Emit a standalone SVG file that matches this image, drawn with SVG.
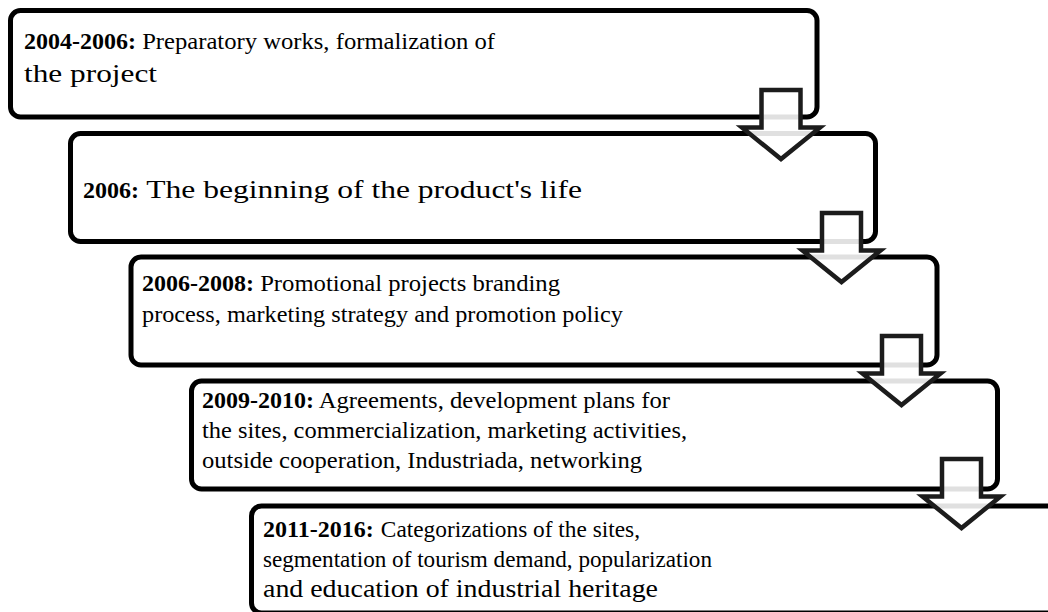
<svg xmlns="http://www.w3.org/2000/svg" width="1048" height="612" viewBox="0 0 1048 612">
<defs>
<style>
.box{fill:#fff;stroke:#000;stroke-width:5}
.arrow{fill:#fff;fill-opacity:0.88;stroke:#1c1c1c;stroke-width:4.5;stroke-linejoin:miter}
.t{font-family:'Liberation Serif','Times New Roman',Times,serif;font-size:24px;fill:#000}
.b{font-weight:bold}
</style>
<path id="arr" d="M -19.5,0 H 19.5 V 37.5 H 39 L 0 69 L -39 37.5 H -19.5 Z"/>
</defs>
<rect width="1048" height="612" fill="#fff"/>
<g id="node1">
<rect class="box" x="10.5" y="10.5" width="806.5" height="106.5" rx="10"/>
<text class="t" x="24" y="49"><tspan class="b">2004-2006:</tspan><tspan x="136" textLength="359" lengthAdjust="spacingAndGlyphs"> Preparatory works, formalization of</tspan></text>
<text class="t" x="24" y="82" font-size="26" style="font-size:26px" textLength="133" lengthAdjust="spacingAndGlyphs">the project</text>
</g>
<g id="node2">
<rect class="box" x="70.5" y="133.5" width="805" height="108" rx="10"/>
<text class="t" x="83" y="198"><tspan class="b">2006:</tspan><tspan x="139" style="font-size:25px" textLength="443" lengthAdjust="spacingAndGlyphs"> The beginning of the product's life</tspan></text>
</g>
<g id="node3">
<rect class="box" x="131" y="257" width="806" height="108" rx="10"/>
<text class="t" x="142" y="291"><tspan class="b">2006-2008:</tspan><tspan x="254" textLength="306" lengthAdjust="spacingAndGlyphs"> Promotional projects branding</tspan></text>
<text class="t" x="142" y="322" textLength="481" lengthAdjust="spacingAndGlyphs">process, marketing strategy and promotion policy</text>
</g>
<g id="node4">
<rect class="box" x="191.5" y="381" width="806" height="108" rx="10"/>
<text class="t" x="202" y="408"><tspan class="b">2009-2010:</tspan><tspan x="314" textLength="356" lengthAdjust="spacingAndGlyphs"> Agreements, development plans for</tspan></text>
<text class="t" x="202" y="438" textLength="485" lengthAdjust="spacingAndGlyphs">the sites, commercialization, marketing activities,</text>
<text class="t" x="202" y="468" textLength="440" lengthAdjust="spacingAndGlyphs">outside cooperation, Industriada, networking</text>
</g>
<g id="node5">
<rect class="box" x="251.5" y="506" width="806" height="107" rx="10"/>
<text class="t" x="263" y="537"><tspan class="b">2011-2016:</tspan><tspan x="375" textLength="265" lengthAdjust="spacingAndGlyphs"> Categorizations of the sites,</tspan></text>
<text class="t" x="263" y="567" textLength="449" lengthAdjust="spacingAndGlyphs">segmentation of tourism demand, popularization</text>
<text class="t" x="263" y="597" style="font-size:25px" textLength="395" lengthAdjust="spacingAndGlyphs">and education of industrial heritage</text>
</g>
<g id="connectors">
<use href="#arr" class="arrow" x="781" y="90"/>
<use href="#arr" class="arrow" x="841.5" y="213"/>
<use href="#arr" class="arrow" x="901.5" y="336"/>
<use href="#arr" class="arrow" x="961.5" y="459"/>
</g>
</svg>
